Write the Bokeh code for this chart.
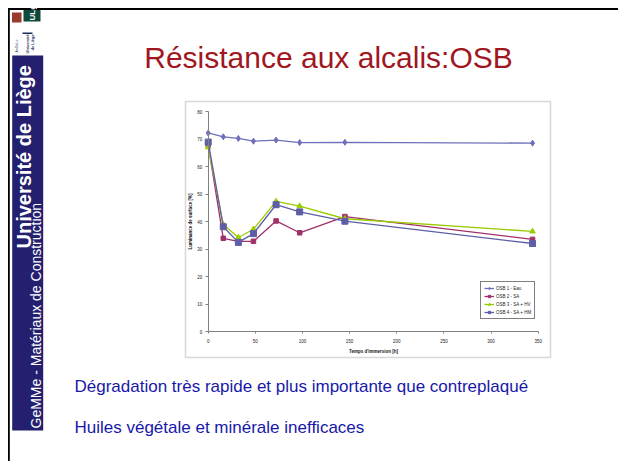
import math
from bokeh.plotting import figure
from bokeh.models import (Range1d, Label, BoxAnnotation, PolyAnnotation, Legend,
                          LegendItem, SingleIntervalTicker)
from bokeh.embed import file_html
from bokeh.resources import INLINE

# ---- data ----
hours = [0, 16, 32, 48, 72, 97, 145, 344]
osb1_eau = [72.2, 70.8, 70.2, 69.2, 69.6, 68.7, 68.8, 68.5]
osb2_sa = [67.9, 33.9, 32.8, 32.8, 40.2, 35.9, 41.8, 33.5]
osb3_sa_hv = [67.0, 38.9, 34.2, 37.2, 47.3, 45.6, 41.0, 36.4]
osb4_sa_hm = [68.9, 38.1, 32.4, 35.6, 46.1, 43.5, 40.1, 32.0]
series_names = ["OSB 1 - Eau", "OSB 2 - SA", "OSB 3 - SA + HV", "OSB 4 - SA + HM"]
y_grid_ticks = [10, 20, 30, 40, 50, 60, 70, 80]
x_title = "Temps d'immersion [h]"
y_title = "Luminance de surface [%]"
slide_title = "Résistance aux alcalis:OSB"
bullets = ["Dégradation très rapide et plus importante que contreplaqué",
           "Huiles végétale et minérale inefficaces"]

FONT = "Liberation Sans"
W, H = 618, 461
# plot-area placement (pixels): x 0..350 -> 207.7..537.7 ; y 0..80 -> 331..111
X0PX, X1PX, Y0PX, Y1PX = 207.7, 537.7, 331.0, 111.0
XMAX, YMAX = 350, 80
kx = (X1PX - X0PX) / XMAX
ky = (Y0PX - Y1PX) / YMAX
MID = 0.35  # label anchor sits ~0.35em above the baseline

p = figure(width=W, height=H,
           x_range=Range1d(-X0PX / kx, (W - X0PX) / kx),
           y_range=Range1d(-(H - Y0PX) / ky, YMAX + Y1PX / ky),
           output_backend="svg", toolbar_location=None, title=None,
           min_border=0, min_border_left=0, min_border_right=0,
           min_border_top=0, min_border_bottom=0)
p.extra_x_ranges = {"px": Range1d(0, W)}
p.extra_y_ranges = {"px": Range1d(H, 0)}
p.outline_line_color = None
p.background_fill_color = "white"
p.border_fill_color = "white"

PX = dict(x_range_name="px", y_range_name="px")


def text(x, y, t, size, color, bold=False, rotate=False, align="left"):
    off = MID * size
    if rotate:
        x = x - off
    else:
        y = y - off
    p.add_layout(Label(x=x, y=y, text=t, angle=(math.pi / 2 if rotate else 0),
                       text_font=FONT, text_font_size=f"{size}px",
                       text_font_style=("bold" if bold else "normal"),
                       text_color=color, text_align=align, text_baseline="alphabetic", **PX))


# chart outer frame
p.add_layout(BoxAnnotation(left=185, right=550, top=101, bottom=357, fill_color="white",
                           fill_alpha=1, line_color="#7f7f7f", line_width=1.5,
                           level="underlay", **PX))

# axes
p.xaxis.ticker = SingleIntervalTicker(interval=50)
p.yaxis.ticker = SingleIntervalTicker(interval=10)
p.xaxis.bounds = (0, XMAX)
p.yaxis.bounds = (0, YMAX)
p.xaxis.fixed_location = 0
p.yaxis.fixed_location = 0
for ax in (p.xaxis, p.yaxis):
    ax.axis_line_color = "#808080"
    ax.major_tick_line_color = "#808080"
    ax.minor_tick_line_color = None
    ax.major_tick_in = 0
    ax.major_label_text_font = FONT
    ax.major_label_text_font_size = "4.5px"
    ax.major_label_text_color = "#222222"
    ax.axis_label_text_font = FONT
    ax.axis_label_text_font_size = "4.5px"
    ax.axis_label_text_font_style = "bold"
    ax.axis_label_text_color = "#111111"
p.xaxis.major_tick_out = 2
p.yaxis.major_tick_out = 3
p.xaxis.major_label_standoff = 3
p.yaxis.major_label_standoff = 2
p.xaxis.axis_label = x_title
p.yaxis.axis_label = y_title
p.xaxis.axis_label_standoff = 3
p.yaxis.axis_label_standoff = 1

p.xgrid.visible = False
g = p.ygrid[0]
if "cross_bounds" in g.properties():
    g.bounds = (0, YMAX)
    g.cross_bounds = (0, XMAX)
    g.grid_line_color = "#8a8a8a"
    g.grid_line_width = 1
else:
    g.visible = False
    p.segment(x0=[0] * len(y_grid_ticks), y0=y_grid_ticks,
              x1=[XMAX] * len(y_grid_ticks), y1=y_grid_ticks,
              line_color="#8a8a8a", line_width=1, level="underlay")

# series
colors = ["#6F6FBB", "#A0306A", "#99CC00", "#5E5EA8"]
markers = ["diamond", "square", "triangle", "square"]
sizes = [6, 4.5, 5.5, 6]
data = [osb1_eau, osb2_sa, osb3_sa_hv, osb4_sa_hm]
items = []
for name, ys, c, m, s in zip(series_names, data, colors, markers, sizes):
    lr = p.line(hours, ys, line_color=c, line_width=1.3)
    sr = p.scatter(hours, ys, marker=m, size=s, fill_color=c, line_color=c)
    items.append(LegendItem(label=name, renderers=[lr, sr]))

legend = Legend(items=items, location=(480, H - 319), orientation="vertical",
                border_line_color="black", border_line_width=1,
                background_fill_color="white", background_fill_alpha=1,
                label_text_font=FONT, label_text_font_size="4.5px", label_text_color="#222222",
                glyph_width=10, glyph_height=6, label_height=6, label_standoff=2,
                spacing=2, padding=3, margin=0)
p.add_layout(legend, "center")

# slide border (black)
p.add_layout(BoxAnnotation(left=7.5, right=W, top=7.5, bottom=9.5, fill_color="black",
                           fill_alpha=1, line_color=None, **PX))
p.add_layout(BoxAnnotation(left=7.5, right=9.3, top=7.5, bottom=H, fill_color="black",
                           fill_alpha=1, line_color=None, **PX))

# side band
p.add_layout(BoxAnnotation(left=11.7, right=42.7, top=55, bottom=430, fill_color="#241F6E",
                           fill_alpha=1, line_color=None, **PX))
text(30, 248, "Université de Liège", 20, "white", bold=True, rotate=True)
text(40.5, 428, "GeMMe - Matériaux de Construction", 14, "white", rotate=True)

# top logo (approximation)
p.add_layout(BoxAnnotation(left=11.5, right=21, top=12, bottom=22, fill_color="#9B3B2E",
                           fill_alpha=1, line_color=None, **PX))
p.add_layout(BoxAnnotation(left=23, right=40, top=9.5, bottom=21, fill_color="#0E4A3A",
                           fill_alpha=1, line_color=None, **PX))
text(35, 20, "ULg", 8, "white", bold=True, rotate=True)
p.add_layout(BoxAnnotation(left=22, right=32, top=32, bottom=33.5, fill_color="#1C2A5A",
                           fill_alpha=1, line_color=None, **PX))
text(28, 53, "Université", 4, "#1C2A5A", bold=True, rotate=True)
text(33, 50, "de Liège", 4, "#1C2A5A", bold=True, rotate=True)
text(18, 52, "AnGeLo", 3.5, "#1C2A5A", rotate=True)

# bottom logo (approximation)
p.add_layout(PolyAnnotation(xs=[12, 23, 16], ys=[433, 433, 446], fill_color="#2B4C9B",
                            fill_alpha=1, line_color=None, **PX))
p.add_layout(PolyAnnotation(xs=[17, 33, 35], ys=[453, 433, 455], fill_color="#9a9a9a",
                            fill_alpha=1, line_color=None, **PX))
p.add_layout(PolyAnnotation(xs=[36.5, 41.5, 41], ys=[435, 441, 447], fill_color="#D02030",
                            fill_alpha=1, line_color=None, **PX))
p.add_layout(PolyAnnotation(xs=[13, 30, 30, 16], ys=[457, 456, 461, 461], fill_color="#2E9E45",
                            fill_alpha=1, line_color=None, **PX))

# title
text(328, 67, slide_title, 30, "#A0171F", align="center")

# bullet lines
for i, t in enumerate(bullets):
    text(74, 392 + i * 40.7, t, 17, "#1818AA")

open("out.html", "w").write(file_html(p, INLINE))
